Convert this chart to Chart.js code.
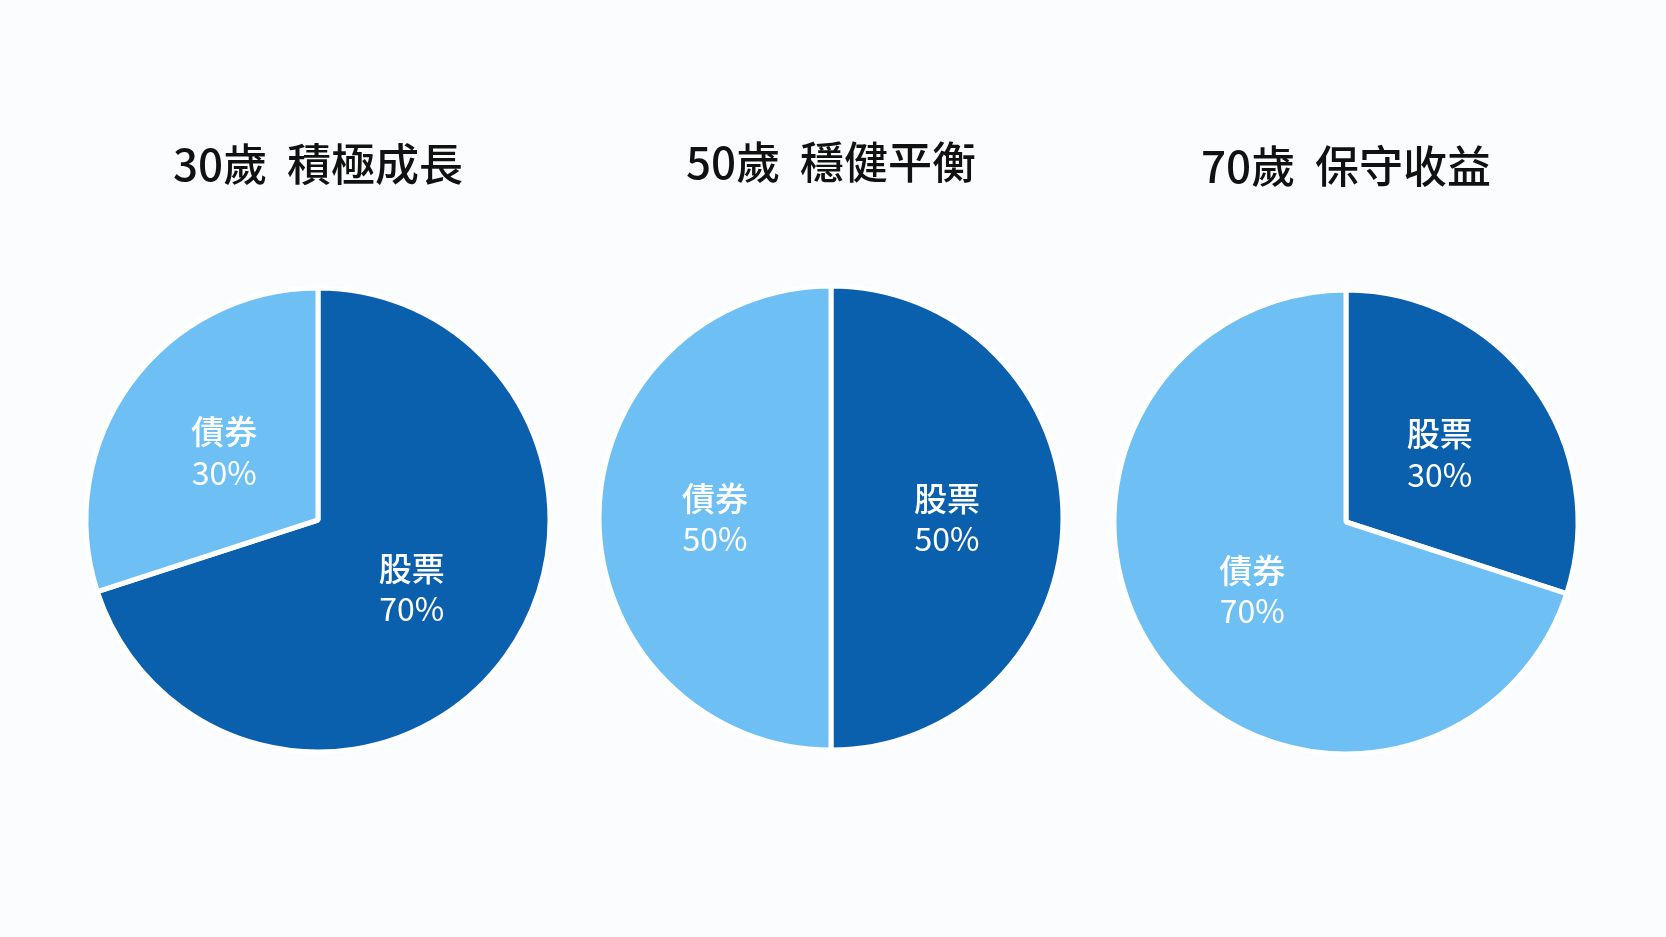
<!DOCTYPE html>
<html>
<head>
<meta charset="utf-8">
<script src="https://cdn.jsdelivr.net/npm/chart.js@4.4.1/dist/chart.umd.min.js"></script>
<style>
    html, body { margin: 0; padding: 0; background: #fbfcfd; width: 1666px; height: 937px; overflow: hidden; }
    .chart-wrapper { position: absolute; top: 110px; width: 520px; height: 820px; }
</style>
</head>
<body>
<div class="chart-wrapper" style="left:58px"><canvas id="pie1"></canvas></div>
<div class="chart-wrapper" style="left:571px; top:108px"><canvas id="pie2"></canvas></div>
<div class="chart-wrapper" style="left:1086px; top:112px"><canvas id="pie3"></canvas></div>
<script>
const groupTitles = ['30歲  積極成長', '50歲  穩健平衡', '70歲  保守收益'];
const assetLabels = ['股票', '債券'];
const stockShare = [70, 50, 30];
const bondShare = [30, 50, 70];

const FONT = '"Noto Sans CJK TC", "Noto Sans", sans-serif';

// draws "name / xx%" inside each slice
const sliceLabels = {
    id: 'sliceLabels',
    afterDatasetsDraw(chart) {
        const ctx = chart.ctx;
        const meta = chart.getDatasetMeta(0);
        const values = chart.data.datasets[0].data;
        ctx.save();
        ctx.fillStyle = '#ffffff';
        ctx.textAlign = 'center';
        ctx.textBaseline = 'middle';
        meta.data.forEach((arc, i) => {
            const pos = arc.tooltipPosition();
            ctx.font = '500 33px ' + FONT;
            ctx.fillText(chart.data.labels[i], pos.x, pos.y - 20);
            ctx.font = '400 32px ' + FONT;
            ctx.fillText(values[i] + '%', pos.x, pos.y + 21);
        });
        ctx.restore();
    }
};

function createChart(canvasId, title, data) {
    const ctx = document.getElementById(canvasId).getContext('2d');
    return new Chart(ctx, {
        type: 'pie',
        data: {
            labels: assetLabels,
            datasets: [{
                data: data,
                backgroundColor: ['#0b60ad', '#6ec0f4'],
                borderColor: '#ffffff',
                borderWidth: 5,
                radius: 232
            }]
        },
        options: {
            responsive: true,
            maintainAspectRatio: false,
            animation: false,
            layout: { padding: { bottom: 100.4 } },
            plugins: {
                legend: { display: false },
                tooltip: { enabled: false },
                title: {
                    display: true,
                    text: title,
                    color: '#111111',
                    font: { family: FONT, size: 44, weight: '500', lineHeight: 1.2 },
                    padding: { top: 27.6, bottom: 20 }
                }
            }
        },
        plugins: [sliceLabels]
    });
}

document.addEventListener('DOMContentLoaded', function () {
    ['pie1', 'pie2', 'pie3'].forEach((id, i) => {
        createChart(id, groupTitles[i], [stockShare[i], bondShare[i]]);
    });
});
</script>
</body>
</html>
